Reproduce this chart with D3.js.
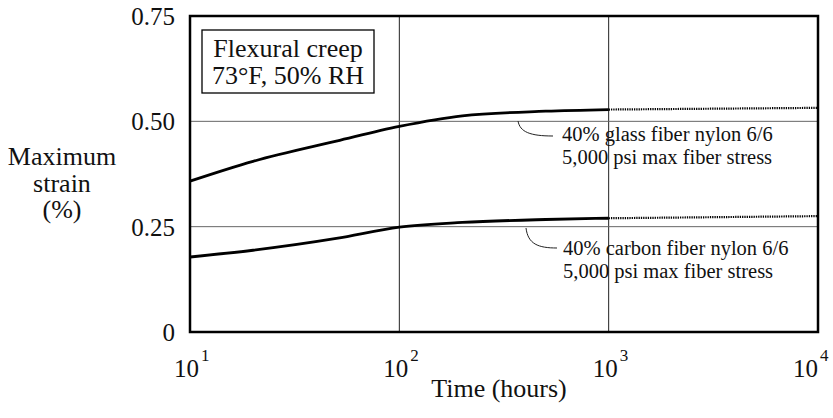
<!DOCTYPE html>
<html>
<head>
<meta charset="utf-8">
<title>Flexural creep</title>
<script src="https://d3js.org/d3.v7.min.js"></script>
<style>
  body { margin: 0; background: #fff; }
  text { font-family: "Liberation Serif", "Times New Roman", serif; fill: #111; }
</style>
</head>
<body>
<div id="chart"></div>
<script>
// Data
const hours        = [10, 20, 50, 100, 200, 500, 1000];
const glassStrain  = [0.358, 0.405, 0.453, 0.488, 0.513, 0.524, 0.528];
const carbonStrain = [0.178, 0.194, 0.222, 0.249, 0.260, 0.267, 0.270];
// extrapolated (dotted) part
const extraHours  = [1000, 10000];
const glassExtra  = [0.528, 0.532];
const carbonExtra = [0.270, 0.275];

const xTicks = [10, 100, 1000, 10000];
const xExponents = ["1", "2", "3", "4"];
const yTicks = [0, 0.25, 0.5, 0.75];
const yTickLabels = ["0", "0.25", "0.50", "0.75"];
const gridX = [100, 1000];
const gridY = [0.25, 0.5];

const width = 833, height = 418;
const margin = {top: 16, right: 15, bottom: 86, left: 190};

const svg = d3.select("#chart").append("svg")
  .attr("width", width)
  .attr("height", height);

const x = d3.scaleLog().domain([10, 10000]).range([margin.left, width - margin.right]);
const y = d3.scaleLinear().domain([0, 0.75]).range([height - margin.bottom, margin.top]);

// grid lines
svg.selectAll("line.gx").data(gridX).enter().append("line")
  .attr("x1", d => x(d)).attr("x2", d => x(d))
  .attr("y1", y(0)).attr("y2", y(0.75))
  .attr("stroke", "#222").attr("stroke-width", 1);
svg.selectAll("line.gy").data(gridY).enter().append("line")
  .attr("x1", x(10)).attr("x2", x(10000))
  .attr("y1", d => y(d)).attr("y2", d => y(d))
  .attr("stroke", "#666").attr("stroke-width", 1);

// curves
const line = d3.line()
  .x(d => x(d[0]))
  .y(d => y(d[1]))
  .curve(d3.curveMonotoneX);

[glassStrain, carbonStrain].forEach(vals => {
  svg.append("path")
    .attr("d", line(hours.map((h, i) => [h, vals[i]])))
    .attr("fill", "none").attr("stroke", "#000").attr("stroke-width", 2.8);
});
[glassExtra, carbonExtra].forEach(vals => {
  svg.append("path")
    .attr("d", line(extraHours.map((h, i) => [h, vals[i]])))
    .attr("fill", "none").attr("stroke", "#000").attr("stroke-width", 2.2)
    .attr("stroke-dasharray", "1.3,1");
});

// frame
svg.append("rect")
  .attr("x", x(10)).attr("y", y(0.75))
  .attr("width", x(10000) - x(10)).attr("height", y(0) - y(0.75))
  .attr("fill", "none").attr("stroke", "#000").attr("stroke-width", 2.5);

// y tick labels
svg.selectAll("text.ytick").data(yTicks).enter().append("text")
  .attr("x", x(10) - 15)
  .attr("y", d => y(d) + 9)
  .attr("text-anchor", "end")
  .attr("font-size", 25)
  .text((d, i) => yTickLabels[i]);

// x tick labels
svg.selectAll("text.xtick").data(xTicks).enter().append("text")
  .attr("x", d => Math.min(x(d) + 9, width - 15))
  .attr("y", 377)
  .attr("text-anchor", "end")
  .attr("font-size", 25)
  .text("10");
svg.selectAll("text.xexp").data(xTicks).enter().append("text")
  .attr("x", d => Math.min(x(d) + 11, width - 13))
  .attr("y", 361)
  .attr("font-size", 17)
  .text((d, i) => xExponents[i]);

// axis titles
svg.append("text")
  .attr("x", 499).attr("y", 397)
  .attr("text-anchor", "middle")
  .attr("font-size", 26)
  .text("Time (hours)");

const yTitle = ["Maximum", "strain", "(%)"];
svg.selectAll("text.ytitle").data(yTitle).enter().append("text")
  .attr("x", 62)
  .attr("y", (d, i) => 165 + i * 26.5)
  .attr("text-anchor", "middle")
  .attr("font-size", 26)
  .text(d => d);

// condition box
svg.append("rect")
  .attr("x", 202).attr("y", 30)
  .attr("width", 172).attr("height", 63)
  .attr("fill", "#fff").attr("stroke", "#000").attr("stroke-width", 1.3);
svg.append("text").attr("x", 288).attr("y", 57)
  .attr("text-anchor", "middle").attr("font-size", 26).text("Flexural creep");
svg.append("text").attr("x", 288).attr("y", 84)
  .attr("text-anchor", "middle").attr("font-size", 26).text("73°F, 50% RH");

// annotations
const notes = [
  {lines: ["40% glass fiber nylon 6/6", "5,000 psi max fiber stress"], from: [518, 121], to: [553, 136], tx: 562, ty: 141},
  {lines: ["40% carbon fiber nylon 6/6", "5,000 psi max fiber stress"], from: [526, 228], to: [557, 248], tx: 563, ty: 255}
];
notes.forEach(n => {
  const [x0, y0] = n.from, [x1, y1] = n.to;
  svg.append("path")
    .attr("d", `M${x0},${y0} C${x0 + 2},${y1 - 4} ${x0 + 12},${y1} ${x1},${y1}`)
    .attr("fill", "none").attr("stroke", "#222").attr("stroke-width", 1);
  n.lines.forEach((t, i) => {
    svg.append("text")
      .attr("x", n.tx).attr("y", n.ty + i * 22.5)
      .attr("font-size", 20.5)
      .text(t);
  });
});
</script>
</body>
</html>
